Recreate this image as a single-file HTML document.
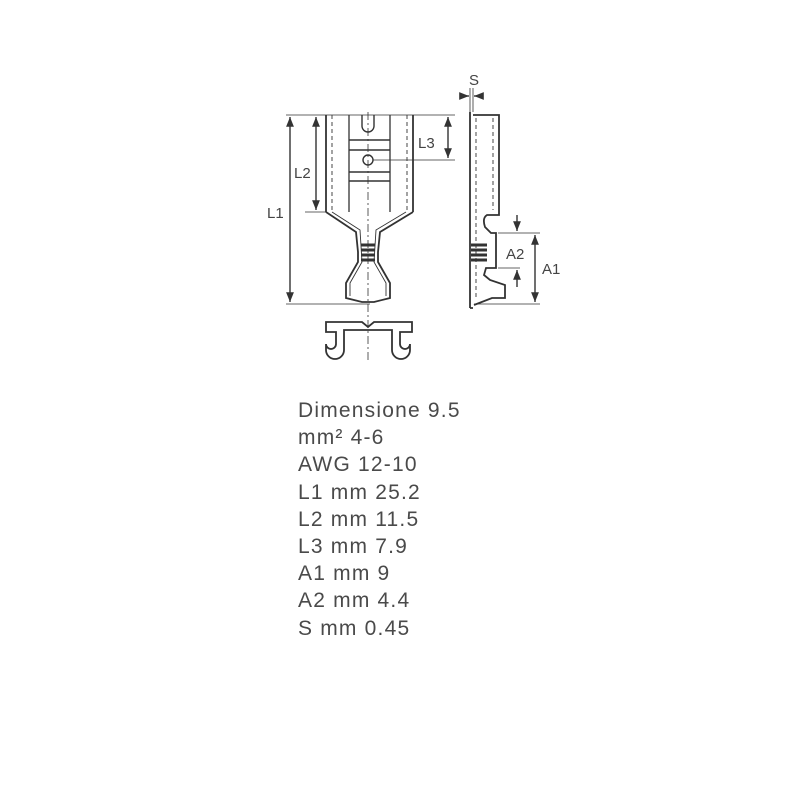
<!DOCTYPE html>
<html><head><meta charset="utf-8"><style>
body{margin:0;background:#fff;width:800px;height:800px;position:relative;overflow:hidden}
.t{position:absolute;left:298px;top:397px;font-family:"Liberation Sans",sans-serif;font-size:21px;letter-spacing:1.2px;line-height:27.2px;color:#4a4a4a}
</style></head><body>
<svg width="800" height="800" style="position:absolute;left:0;top:0" fill="none" stroke="#333" stroke-width="1.4">
<defs><marker id="a" viewBox="0 0 10 10" refX="10" refY="5" markerWidth="7" markerHeight="7" orient="auto-start-reverse"><path d="M0,1 L10,5 L0,9 z" fill="#333" stroke="none"/></marker></defs>
<line x1="286" y1="115" x2="455" y2="115" stroke-width="0.8"/>
<line x1="286" y1="304" x2="370" y2="304" stroke-width="0.8"/>
<line x1="305" y1="212" x2="326" y2="212" stroke-width="0.8"/>
<line x1="373" y1="160" x2="455" y2="160" stroke-width="0.8"/>
<line x1="290" y1="117" x2="290" y2="302" marker-start="url(#a)" marker-end="url(#a)"/>
<line x1="316" y1="117" x2="316" y2="210" marker-start="url(#a)" marker-end="url(#a)"/>
<line x1="448" y1="117" x2="448" y2="158" marker-start="url(#a)" marker-end="url(#a)"/>
<path d="M326,115 V212 M413,115 V212 M326,212 L356,232 L358,252 V262 L346,283 V298 L362,302 H374 L390,298 V283 L378,262 V252 L380,232 L413,212" stroke-width="1.8"/>
<path d="M332,212 L360,230 L362,262 L350,283 V296 M406,212 L376,230 L374,262 L386,283 V296" stroke-width="0.9"/>
<line x1="332" y1="115" x2="332" y2="212" stroke-dasharray="4,3" stroke-width="0.9"/>
<line x1="349" y1="115" x2="349" y2="212" stroke-width="1.3"/>
<line x1="390" y1="115" x2="390" y2="212" stroke-width="1.3"/>
<line x1="407" y1="115" x2="407" y2="212" stroke-dasharray="4,3" stroke-width="0.9"/>
<path d="M362,115 V126 A6,6 0 0 0 374,126 V115"/>
<path d="M349,140 H390 M349,150 H390 M349,172 H390 M349,181 H390"/>
<circle cx="368" cy="160" r="5"/>
<path d="M361,245 H375 M361,250 H375 M361,255 H375 M361,260 H375" stroke-width="3"/>
<line x1="368" y1="112" x2="368" y2="360" stroke-dasharray="8,3,2,3" stroke-width="0.8"/>
<path d="M326,322 H362 L368,327 L374,322 H412 V332 H400 V344 A5,5 0 0 0 410,344 V350 A9,9 0 0 1 392,350 V330 H344 V350 A9,9 0 0 1 326,350 V344 A5,5 0 0 0 336,344 V332 H326 Z" stroke-width="1.8"/>
<line x1="462" y1="96" x2="469" y2="96" marker-end="url(#a)"/>
<line x1="481" y1="96" x2="474" y2="96" marker-end="url(#a)"/>
<line x1="470" y1="88" x2="470" y2="112" stroke-width="0.8"/>
<line x1="473" y1="88" x2="473" y2="112" stroke-width="0.8"/>
<path d="M470,112 V308 M473,115 H499 V215 H487 Q482,218 485,227 L491,233 H496 V268 H486 L484,275 L490,280 L505,285 V298 H492 L474,305 M470,308 H473" stroke-width="1.8"/>
<line x1="476" y1="118" x2="476" y2="300" stroke-dasharray="4,3" stroke-width="0.9"/>
<line x1="493" y1="118" x2="493" y2="210" stroke-dasharray="4,3" stroke-width="0.9"/>
<path d="M471,245 H487 M471,250 H487 M471,255 H487 M471,260 H487" stroke-width="3"/>
<line x1="498" y1="233" x2="540" y2="233" stroke-width="0.8"/>
<line x1="498" y1="268" x2="520" y2="268" stroke-width="0.8"/>
<line x1="474" y1="304" x2="540" y2="304" stroke-width="0.8"/>
<line x1="517" y1="215" x2="517" y2="231" marker-end="url(#a)"/>
<line x1="517" y1="287" x2="517" y2="270" marker-end="url(#a)"/>
<line x1="535" y1="235" x2="535" y2="302" marker-start="url(#a)" marker-end="url(#a)"/>
<g fill="#444" stroke="none" font-family="Liberation Sans,sans-serif" font-size="15">
<text x="267" y="218">L1</text><text x="294" y="178">L2</text><text x="418" y="148">L3</text>
<text x="469" y="85">S</text><text x="506" y="259">A2</text><text x="542" y="274">A1</text></g>
</svg>
<div class="t">Dimensione 9.5<br>mm² 4-6<br>AWG 12-10<br>L1 mm 25.2<br>L2 mm 11.5<br>L3 mm 7.9<br>A1 mm 9<br>A2 mm 4.4<br>S mm 0.45</div>
</body></html>
